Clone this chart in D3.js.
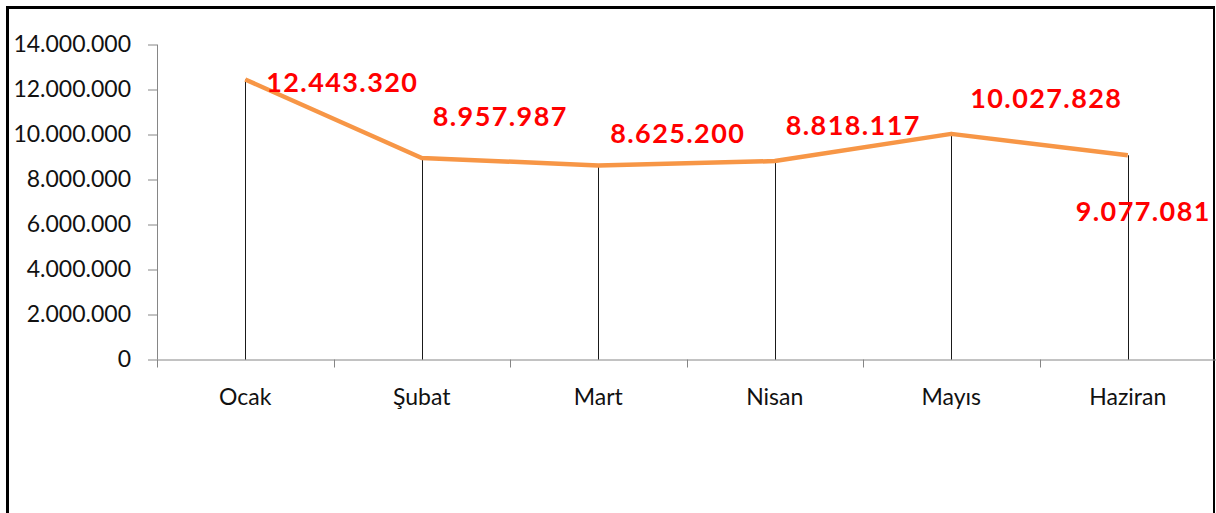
<!DOCTYPE html>
<html>
<head>
<meta charset="utf-8">
<script src="https://cdn.jsdelivr.net/npm/d3@7"></script>
<style>
	body { margin: 0; background: #fff; }
	svg { display: block; }
	.axis path, .axis line { stroke: #868686; }
	.axis text { font-family: Lato, sans-serif; font-size: 23px; fill: #111; }
	.value-label { font-family: Lato, sans-serif; font-size: 27px; font-weight: bold; fill: #ff0000; letter-spacing: 1.4px; }
</style>
</head>
<body>
<svg id="chart" width="1216" height="513"></svg>
<script>
// aylar ve değerler
var months = ['Ocak', 'Şubat', 'Mart', 'Nisan', 'Mayıs', 'Haziran'];
var values = [12443320, 8957987, 8625200, 8818117, 10027828, 9077081];
var yTicks = [0, 2000000, 4000000, 6000000, 8000000, 10000000, 12000000, 14000000];

// etiketlerin noktaya göre kaydırılması (sol kenar, taban çizgisi)
var labelNudge = [[21, 12], [11, -32], [12, -22], [11, -26], [19, -26], [-52, 66]];

var trLocale = d3.formatLocale({decimal: ',', thousands: '.', grouping: [3], currency: ['', ' TL']});
var fmt = trLocale.format(',d');

var svg = d3.select('#chart');
var plotLeft = 157, plotRight = 1216, plotTop = 44.5, plotBottom = 359.5;

var x = d3.scaleBand().domain(months).range([plotLeft, plotRight]).padding(0);
var y = d3.scaleLinear().domain([0, 14000000]).range([plotBottom, plotTop]);

function cx(d) { return x(d) + x.bandwidth() / 2; }

// çerçeve
svg.append('line').attr('x1', 7.5).attr('x2', 7.5).attr('y1', 6).attr('y2', 513)
	.attr('stroke', '#000').attr('stroke-width', 3);
svg.append('line').attr('x1', 6).attr('x2', 1215).attr('y1', 7.5).attr('y2', 7.5)
	.attr('stroke', '#000').attr('stroke-width', 3);
svg.append('line').attr('x1', 1214).attr('x2', 1214).attr('y1', 6).attr('y2', 513)
	.attr('stroke', '#000').attr('stroke-width', 2);

// y ekseni
var yAxis = d3.axisLeft(y).tickValues(yTicks).tickSize(9).tickPadding(17).tickFormat(fmt);
var gy = svg.append('g').attr('class', 'axis').attr('transform', 'translate(' + plotLeft + ',0)').call(yAxis);
gy.select('.domain').attr('d', 'M0.5,' + plotTop + 'V' + plotBottom);

// x ekseni (çizgiler kategori sınırlarında)
var gx = svg.append('g').attr('class', 'axis');
gx.append('path').attr('d', 'M' + plotLeft + ',' + (plotBottom + 0.5) + 'H' + plotRight).attr('fill', 'none');
var bounds = months.map(function(m) { return x(m); }).concat([plotRight - 0.5]);
gx.selectAll('line.tk')
	.data(bounds)
	.enter()
	.append('line')
	.attr('class', 'tk')
	.attr('x1', function(d) { return Math.round(d) + 0.5; })
	.attr('x2', function(d) { return Math.round(d) + 0.5; })
	.attr('y1', plotBottom)
	.attr('y2', plotBottom + 8);
gx.selectAll('text')
	.data(months)
	.enter()
	.append('text')
	.attr('x', cx)
	.attr('y', 405)
	.attr('text-anchor', 'middle')
	.text(function(d) { return d; });

// düşey çizgiler
svg.append('g').selectAll('line')
	.data(values)
	.enter()
	.append('line')
	.attr('x1', function(d, i) { return Math.round(cx(months[i])) + 0.5; })
	.attr('x2', function(d, i) { return Math.round(cx(months[i])) + 0.5; })
	.attr('y1', function(d) { return y(d); })
	.attr('y2', plotBottom)
	.attr('stroke', '#1a1a1a')
	.attr('stroke-width', 1);

// turuncu çizgi
var line = d3.line()
	.x(function(d, i) { return cx(months[i]); })
	.y(function(d) { return y(d); });

svg.append('path')
	.datum(values)
	.attr('d', line)
	.attr('fill', 'none')
	.attr('stroke', '#f79646')
	.attr('stroke-width', 4.5)
	.attr('stroke-linejoin', 'round');

// değer etiketleri
svg.append('g').selectAll('text')
	.data(values)
	.enter()
	.append('text')
	.attr('class', 'value-label')
	.attr('x', function(d, i) { return cx(months[i]) + labelNudge[i][0]; })
	.attr('y', function(d, i) { return y(d) + labelNudge[i][1]; })
	.text(function(d) { return fmt(d); });
</script>
</body>
</html>
